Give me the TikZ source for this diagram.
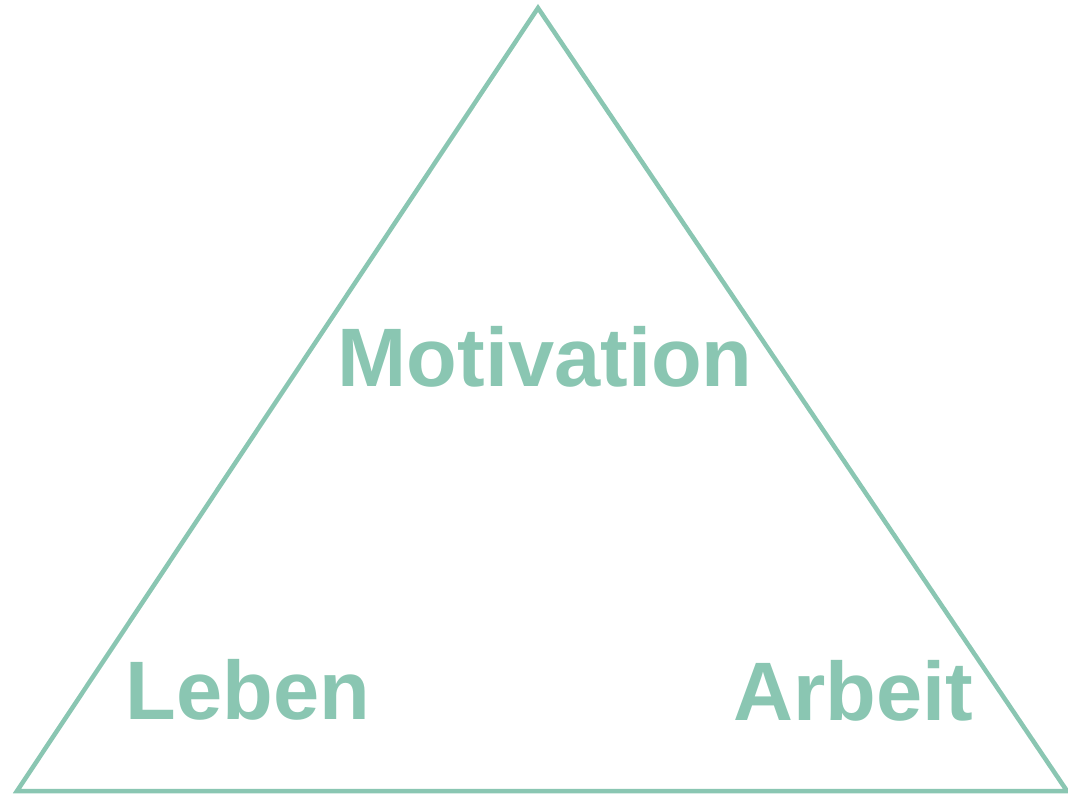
\documentclass[tikz,border=0pt]{standalone}
\usepackage{fontspec}
\setmainfont{Liberation Sans}
\definecolor{mint}{RGB}{138,198,178}
\begin{document}
\begin{tikzpicture}[x=1pt,y=-1pt,
  lbl/.style={anchor=base,inner sep=0pt,text=mint,font=\fontsize{83}{88}\selectfont\bfseries},
  tri/.style={draw=mint,line width=4.5pt,line join=miter}]
\useasboundingbox (0,0) rectangle (1068,794);
\coordinate (apex) at (538,8);
\coordinate (bl) at (17,791);
\coordinate (br) at (1067,791);
\draw[tri] (apex) -- (bl) -- (br) -- cycle;
\node[lbl] (motivation) at (545,386) {Motivation};
\node[lbl] (leben) at (248,719) {Leben};
\node[lbl] (arbeit) at (853,720) {Arbeit};
\end{tikzpicture}
\end{document}
